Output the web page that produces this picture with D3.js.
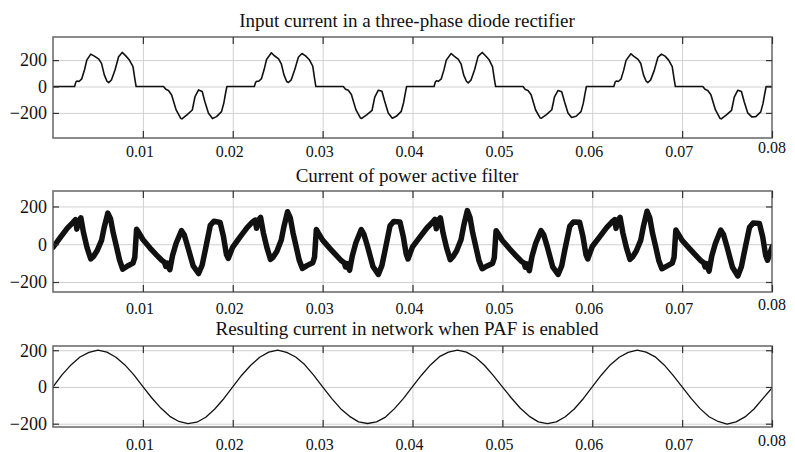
<!DOCTYPE html>
<html>
<head>
<meta charset="utf-8">
<script src="https://cdn.jsdelivr.net/npm/d3@7"></script>
<style>
body { margin: 0; background: #fff; }
svg text { font-family: "Liberation Serif", "DejaVu Serif", serif; fill: #111; }
.title { font-size: 19px; }
.xlab { font-size: 16px; }
.ylab { font-size: 18px; }
.grid line { stroke: #d0d0d0; stroke-width: 1; }
.grid path, .mark path { display: none; }
.mark line { stroke: #333; stroke-width: 1.2; }
.frame { fill: none; stroke: #6e6e6e; stroke-width: 1.6; }
.trace { fill: none; stroke: #111; stroke-linejoin: round; stroke-linecap: round; }
</style>
</head>
<body>
<div id="chart"></div>
<script>
// time in ms, shown on the axis in seconds
var xTicks = [10, 20, 30, 40, 50, 60, 70, 80];
var xTickLabels = ["0.01", "0.02", "0.03", "0.04", "0.05", "0.06", "0.07", "0.08"];
var yTicks = [-200, 0, 200];
var yTickLabels = ["\u2212200", "0", "200"];
var titles = [
  "Input current in a three-phase diode rectifier",
  "Current of power active filter",
  "Resulting current in network when PAF is enabled"
];

var rectTime = [
  0, 2.4, 2.55, 2.7, 2.9, 3.2, 3.5, 3.76, 4.2, 4.6, 5.1, 5.4, 5.7, 6.0, 6.2, 6.5, 6.9, 7.3, 7.7, 8.1, 8.5, 8.9, 9.1, 9.25,
  12.3, 12.55, 12.85, 13.2, 13.7, 14.2, 14.35, 14.9, 15.5, 15.8, 16.2, 16.6, 16.9, 17.3, 17.75, 18.2, 18.75, 19.0, 19.2, 19.35,
  20, 22.4, 22.55, 22.7, 22.9, 23.2, 23.5, 23.76, 24.3, 24.6, 25.1, 25.4, 25.7, 26.0, 26.2, 26.5, 26.9, 27.3, 27.7, 28.1, 28.5, 28.9, 29.1, 29.25,
  32.3, 32.55, 32.85, 33.2, 33.7, 34.2, 34.35, 34.9, 35.5, 35.8, 36.2, 36.6, 36.9, 37.3, 37.75, 38.2, 38.75, 39.0, 39.2, 39.35,
  40, 42.4, 42.55, 42.7, 42.9, 43.2, 43.5, 43.76, 44.3, 44.6, 45.1, 45.4, 45.7, 46.0, 46.2, 46.5, 46.9, 47.3, 47.75, 48.1, 48.5, 48.9, 49.1, 49.25,
  52.3, 52.55, 52.85, 53.2, 53.7, 54.2, 54.35, 54.9, 55.5, 55.8, 56.2, 56.6, 56.9, 57.3, 57.7, 58.2, 58.75, 59.0, 59.2, 59.35,
  60, 62.4, 62.55, 62.7, 62.9, 63.2, 63.5, 63.76, 64.3, 64.6, 65.1, 65.4, 65.7, 66.0, 66.2, 66.5, 66.9, 67.3, 67.7, 68.1, 68.5, 68.9, 69.1, 69.25,
  72.3, 72.55, 72.85, 73.2, 73.7, 74.2, 74.35, 74.9, 75.5, 75.8, 76.2, 76.6, 76.9, 77.3, 77.75, 78.2, 78.75, 79.0, 79.2, 79.35,
  80
];
var rectCurrent = [
  0, 0, 35, 42, 38, 58, 125, 200, 245, 230, 208, 175, 90, 40, 29, 49, 125, 225, 258, 232, 200, 150, 60, 0,
  0, -21, -30, -64, -177, -240, -245, -215, -178, -77, -26, -38, -115, -202, -243, -228, -190, -127, -51, 0,
  0, 0, 33, 40, 40, 60, 130, 205, 255, 235, 210, 172, 88, 38, 30, 50, 128, 222, 250, 232, 205, 155, 62, 0,
  0, -20, -28, -60, -175, -238, -242, -215, -180, -80, -28, -36, -110, -200, -240, -226, -188, -125, -50, 0,
  0, 0, 36, 44, 40, 58, 126, 200, 250, 232, 206, 172, 86, 40, 28, 48, 125, 228, 258, 235, 205, 150, 60, 0,
  0, -22, -30, -62, -178, -238, -240, -213, -176, -78, -30, -40, -112, -200, -235, -225, -190, -128, -52, 0,
  0, 0, 34, 42, 38, 56, 124, 198, 248, 230, 206, 174, 88, 40, 30, 50, 122, 220, 245, 230, 200, 150, 60, 0,
  0, -21, -30, -62, -176, -240, -245, -216, -180, -80, -28, -38, -114, -200, -230, -228, -192, -128, -52, 0,
  0
];

var filterTime = [
  0, 0.8, 1.6, 2.2, 2.5, 2.65, 2.8, 3.1, 3.4, 3.8, 4.2, 4.5, 4.9, 5.4, 5.7, 6.1, 6.4, 6.7, 7.1, 7.4, 7.75, 8.3, 8.9, 9.1, 9.3,
  9.5, 10.0, 10.8, 11.5, 12.1, 12.4, 12.55, 12.7, 13.0, 13.3, 13.7, 14.3, 14.6, 15.0, 15.6, 16.2, 16.6, 16.95, 17.5, 17.9, 18.6, 18.97, 19.3, 19.5,
  20, 20.8, 21.6, 22.2, 22.5, 22.65, 22.8, 23.1, 23.4, 23.8, 24.2, 24.5, 24.9, 25.4, 25.7, 26.1, 26.4, 26.7, 27.1, 27.4, 27.75, 28.3, 28.9, 29.1, 29.3,
  29.5, 30.0, 30.8, 31.5, 32.1, 32.4, 32.55, 32.7, 33.0, 33.3, 33.7, 34.3, 34.6, 35.0, 35.6, 36.2, 36.6, 36.95, 37.5, 37.9, 38.6, 38.97, 39.3, 39.5,
  40, 40.8, 41.6, 42.2, 42.5, 42.65, 42.8, 43.1, 43.4, 43.8, 44.2, 44.5, 44.9, 45.4, 45.7, 46.1, 46.4, 46.7, 47.1, 47.4, 47.75, 48.3, 48.9, 49.1, 49.3,
  49.5, 50.0, 50.8, 51.5, 52.1, 52.4, 52.55, 52.7, 53.0, 53.3, 53.7, 54.3, 54.6, 55.0, 55.6, 56.2, 56.6, 56.95, 57.5, 57.9, 58.6, 58.97, 59.3, 59.5,
  60, 60.8, 61.6, 62.2, 62.5, 62.65, 62.8, 63.1, 63.4, 63.8, 64.2, 64.5, 64.9, 65.4, 65.7, 66.1, 66.4, 66.7, 67.1, 67.4, 67.75, 68.3, 68.9, 69.1, 69.3,
  69.5, 70.0, 70.8, 71.5, 72.1, 72.4, 72.55, 72.7, 73.0, 73.3, 73.7, 74.3, 74.6, 75.0, 75.6, 76.2, 76.6, 76.95, 77.5, 77.9, 78.6, 78.97, 79.3, 79.5,
  80
];
var filterCurrent = [
  -17, 35, 85, 115, 130, 80, 120, 140, 60, -20, -78, -65, -35, 20, 90, 165, 135, 60, -20, -83, -132, -115, -100, -70, 80,
  65, 25, -20, -56, -85, -95, -118, -100, -135, -60, 5, 72, 50, -15, -115, -155, -110, -30, 100, 122, 115, 40, -55, -75,
  -15, 38, 88, 118, 128, 85, 125, 142, 62, -18, -80, -68, -38, 22, 95, 172, 140, 62, -22, -85, -128, -112, -98, -68, 78,
  62, 22, -22, -58, -88, -98, -120, -102, -138, -62, 8, 78, 52, -12, -118, -160, -112, -32, 98, 120, 118, 42, -52, -78,
  -14, 36, 86, 115, 132, 82, 122, 140, 60, -20, -82, -66, -36, 24, 98, 178, 142, 60, -24, -88, -130, -115, -102, -72, 72,
  58, 20, -24, -60, -90, -100, -122, -104, -140, -64, 4, 72, 50, -14, -120, -160, -115, -30, 95, 118, 116, 40, -55, -78,
  -12, 38, 88, 118, 130, 84, 124, 142, 62, -18, -80, -66, -36, 22, 96, 175, 140, 60, -22, -86, -130, -116, -100, -70, 75,
  60, 20, -22, -58, -88, -98, -120, -102, -142, -62, 4, 75, 52, -15, -122, -168, -118, -35, 90, 112, 110, 38, -60, -85,
  -15
];

var gridTime = [
  0, 1, 2, 3, 4, 5, 6, 7, 8, 9, 10, 11, 12, 13, 14, 15, 16, 17, 18, 19,
  20, 21, 22, 23, 24, 25, 26, 27, 28, 29, 30, 31, 32, 33, 34, 35, 36, 37, 38, 39,
  40, 41, 42, 43, 44, 45, 46, 47, 48, 49, 50, 51, 52, 53, 54, 55, 56, 57, 58, 59,
  60, 61, 62, 63, 64, 65, 66, 67, 68, 69, 70, 71, 72, 73, 74, 75, 76, 77, 78, 79,
  80
];
var gridCurrent = [
  0, 66, 120, 163, 188, 200, 190, 162, 120, 66, 2, -60, -115, -160, -188, -200, -192, -165, -120, -64,
  0, 64, 118, 162, 190, 200, 188, 163, 122, 64, 0, -62, -118, -160, -190, -199, -190, -164, -118, -62,
  2, 64, 120, 165, 190, 201, 190, 162, 118, 62, 0, -60, -116, -160, -190, -200, -190, -162, -120, -64,
  0, 64, 120, 162, 188, 200, 190, 164, 120, 63, 0, -62, -118, -162, -188, -202, -190, -163, -120, -62,
  -5
];

var svg = d3.select("#chart").append("svg")
    .attr("width", 795)
    .attr("height", 452)
    .attr("font-family", "Liberation Serif, serif");

var x = d3.scaleLinear().domain([0, 80]).range([53, 772]);
var plotW = x.range()[1] - x.range()[0];

var panels = [
  { title: titles[0], time: rectTime, value: rectCurrent, yDomain: [-390, 375],
    top: 37, bottom: 138, titleY: 27, labelY: 157, stroke: 1.6 },
  { title: titles[1], time: filterTime, value: filterCurrent, yDomain: [-253, 282],
    top: 191, bottom: 292, titleY: 181.5, labelY: 314, stroke: 5.5 },
  { title: titles[2], time: gridTime, value: gridCurrent, yDomain: [-218, 223],
    top: 346, bottom: 427, titleY: 335, labelY: 449.5, stroke: 1.3 }
];

var drawPanel = function(p, idx) {
  var h = p.bottom - p.top;
  var y = d3.scaleLinear().domain(p.yDomain).range([p.bottom, p.top]);
  var g = svg.append("g").attr("class", "panel");

  g.append("text")
    .attr("class", "title")
    .attr("x", 407)
    .attr("y", p.titleY)
    .attr("text-anchor", "middle")
    .text(p.title);

  // light grid
  g.append("g")
    .attr("class", "grid")
    .attr("transform", "translate(0," + p.bottom + ")")
    .call(d3.axisBottom(x).tickValues(xTicks.slice(0, -1)).tickSize(-h).tickFormat(""));
  g.append("g")
    .attr("class", "grid")
    .attr("transform", "translate(" + x.range()[0] + ",0)")
    .call(d3.axisLeft(y).tickValues(yTicks).tickSize(-plotW).tickFormat(""));

  g.append("clipPath")
    .attr("id", "clip" + idx)
    .append("rect")
    .attr("x", x.range()[0]).attr("y", p.top)
    .attr("width", plotW).attr("height", h);

  var line = d3.line()
    .x(function(d, i) { return x(p.time[i]); })
    .y(function(d) { return y(d); });

  g.append("path")
    .datum(p.value)
    .attr("class", "trace")
    .attr("clip-path", "url(#clip" + idx + ")")
    .attr("stroke-width", p.stroke)
    .attr("d", line);

  g.append("rect")
    .attr("class", "frame")
    .attr("x", x.range()[0]).attr("y", p.top)
    .attr("width", plotW).attr("height", h);

  // inward tick marks on all four sides
  g.append("g").attr("class", "mark")
    .attr("transform", "translate(0," + p.bottom + ")")
    .call(d3.axisBottom(x).tickValues(xTicks).tickSize(-7).tickFormat(""));
  g.append("g").attr("class", "mark")
    .attr("transform", "translate(0," + p.top + ")")
    .call(d3.axisTop(x).tickValues(xTicks).tickSize(-7).tickFormat(""));
  g.append("g").attr("class", "mark")
    .attr("transform", "translate(" + x.range()[0] + ",0)")
    .call(d3.axisLeft(y).tickValues(yTicks).tickSize(-6).tickFormat(""));
  g.append("g").attr("class", "mark")
    .attr("transform", "translate(" + x.range()[1] + ",0)")
    .call(d3.axisRight(y).tickValues(yTicks).tickSize(-6).tickFormat(""));

  g.selectAll(".xlab")
      .data(xTicks)
    .enter().append("text")
      .attr("class", "xlab")
      .attr("text-anchor", "middle")
      .attr("x", function(d) { return x(d) + (d == 80 ? 0 : -3); })
      .attr("y", function(d) { return d == 80 ? p.labelY - 4 : p.labelY; })
      .text(function(d, i) { return xTickLabels[i]; });

  g.selectAll(".ylab")
      .data(yTicks)
    .enter().append("text")
      .attr("class", "ylab")
      .attr("text-anchor", "end")
      .attr("x", 47)
      .attr("y", function(d) { return y(d); })
      .attr("dy", "0.35em")
      .text(function(d, i) { return yTickLabels[i]; });
};

panels.forEach(drawPanel);
</script>
</body>
</html>
